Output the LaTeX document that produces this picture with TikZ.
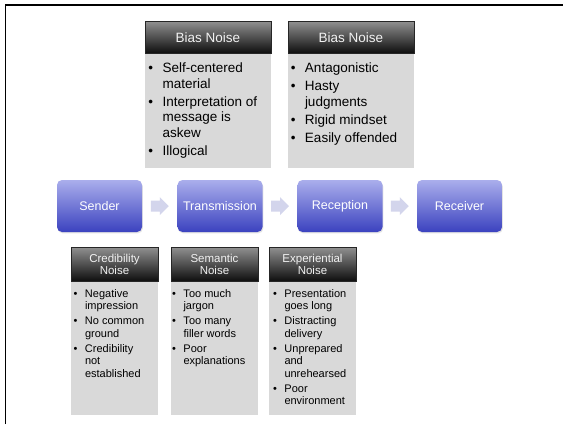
\documentclass[tikz,border=0pt]{standalone}
\usepackage{fontspec}
\setmainfont{Liberation Sans}
\usetikzlibrary{calc,shadows}

\definecolor{procTop}{HTML}{AAAEEC}
\definecolor{procBot}{HTML}{3B42BF}
\definecolor{hdrTop}{HTML}{8E8E8E}
\definecolor{hdrBot}{HTML}{0C0C0C}
\definecolor{bodyGray}{HTML}{D9D9D9}
\definecolor{arrowFill}{HTML}{D3D5EC}
\definecolor{hdrText}{HTML}{F2F2F2}

% bullet item with a hanging bullet; \bitemgap = gap between bullet and text
\newcommand{\bitemgap}{9.5pt}
\newcommand{\bitem}{\par\noindent\llap{\textbullet\hspace{\bitemgap}}}

\tikzset{
  x=1pt, y=-1pt,
  procbox/.style={rectangle, rounded corners=5pt, minimum width=85pt, minimum height=52pt,
    top color=procTop, bottom color=procBot, text=white, inner sep=0pt,
    font=\fontsize{12.5}{14}\selectfont,
    drop shadow={opacity=0.22, shadow xshift=0.8pt, shadow yshift=-1.4pt}},
  hdrbox/.style={rectangle, draw=black!85, line width=0.6pt, top color=hdrTop, bottom color=hdrBot,
    text=hdrText, inner sep=0pt, align=center, anchor=south},
  bighdr/.style={hdrbox, minimum width=126pt, minimum height=32pt, font=\fontsize{13.5}{15}\selectfont},
  smallhdr/.style={hdrbox, minimum width=87pt, minimum height=34pt, font=\fontsize{11.5}{12}\selectfont},
  bodybox/.style={rectangle, fill=bodyGray, inner sep=0pt, anchor=north},
  bigbody/.style={bodybox, minimum width=126pt, minimum height=114pt},
  smallbody/.style={bodybox, minimum width=87pt, minimum height=133pt},
  bigtext/.style={anchor=base west, inner sep=0pt, text=black, font=\fontsize{13.5}{15.5}\selectfont},
  smalltext/.style={anchor=base west, inner sep=0pt, text=black, font=\fontsize{11}{12.2}\selectfont},
  flowarrow/.style={fill=arrowFill},
  frameline/.style={line width=1.5pt, black}
}

% block arrow centred on a coordinate
\newcommand{\blockarrow}[1]{%
  \fill[flowarrow] ($(#1)+(-9,-5.5)$) -- ($(#1)+(0,-5.5)$) -- ($(#1)+(0,-9)$) -- ($(#1)+(9,0)$)
    -- ($(#1)+(0,9)$) -- ($(#1)+(0,5.5)$) -- ($(#1)+(-9,5.5)$) -- cycle;}

\begin{document}
\begin{tikzpicture}
\useasboundingbox (0,0) rectangle (563,424);
\fill[white] (0,0) rectangle (563,424);

% slide frame
\draw[frameline] (5.5,424) -- (5.5,5.2) -- (563,5.2);

% process chain
\node[procbox] (sender) at (99.5,206) {Sender};
\node[procbox] (trans)  at (220,206) {Transmission};
\node[procbox] (recep)  at (340,206) {Reception};
\node[procbox] (recv)   at (459.5,206) {Receiver};

\coordinate (m1) at ($(sender.east)!0.5!(trans.west)$);
\coordinate (m2) at ($(trans.east)!0.5!(recep.west)$);
\coordinate (m3) at ($(recep.east)!0.5!(recv.west)$);
\blockarrow{m1}
\blockarrow{m2}
\blockarrow{m3}

% bias noise boxes
\node[bigbody] (bias1b) at (208,54) {};
\node[bighdr] (bias1h) at (bias1b.north) {Bias Noise};
\node[bigtext] (bias1t) at ($(bias1b.north west)+(17.7,18.8)$) {%
  \begin{minipage}[t]{104pt}\raggedright\setlength\parskip{2.5pt}%
  \bitem Self-centered\\material
  \bitem Interpretation of\\message is\\askew
  \bitem Illogical
  \end{minipage}};

\node[bigbody] (bias2b) at (351,54) {};
\node[bighdr] (bias2h) at (bias2b.north) {Bias Noise};
\node[bigtext] (bias2t) at ($(bias2b.north west)+(17,18.8)$) {%
  \begin{minipage}[t]{104pt}\raggedright\setlength\parskip{2.5pt}%
  \bitem Antagonistic
  \bitem Hasty\\judgments
  \bitem Rigid mindset
  \bitem Easily offended
  \end{minipage}};

% lower noise boxes
\renewcommand{\bitemgap}{7.5pt}
\node[smallbody] (credb) at (114.5,282) {};
\node[smallhdr] (credh) at (credb.north) {Credibility\\Noise};
\node[smalltext] (credt) at ($(credb.north west)+(14,15)$) {%
  \begin{minipage}[t]{75pt}\raggedright\setlength\parskip{3.4pt}%
  \bitem Negative\\impression
  \bitem No common\\ground
  \bitem Credibility\\not\\established
  \end{minipage}};

\node[smallbody] (semb) at (214.5,282) {};
\node[smallhdr] (semh) at (semb.north) {Semantic\\Noise};
\node[smalltext] (semt) at ($(semb.north west)+(12.5,15)$) {%
  \begin{minipage}[t]{75pt}\raggedright\setlength\parskip{3.4pt}%
  \bitem Too much\\jargon
  \bitem Too many\\filler words
  \bitem Poor\\explanations
  \end{minipage}};

\node[smallbody] (expb) at (312.5,282) {};
\node[smallhdr] (exph) at (expb.north) {Experiential\\Noise};
\node[smalltext] (expt) at ($(expb.north west)+(15.5,15)$) {%
  \begin{minipage}[t]{75pt}\raggedright\setlength\parskip{3.4pt}%
  \bitem Presentation\\goes long
  \bitem Distracting\\delivery
  \bitem Unprepared\\and\\unrehearsed
  \bitem Poor\\environment
  \end{minipage}};
\end{tikzpicture}
\end{document}
